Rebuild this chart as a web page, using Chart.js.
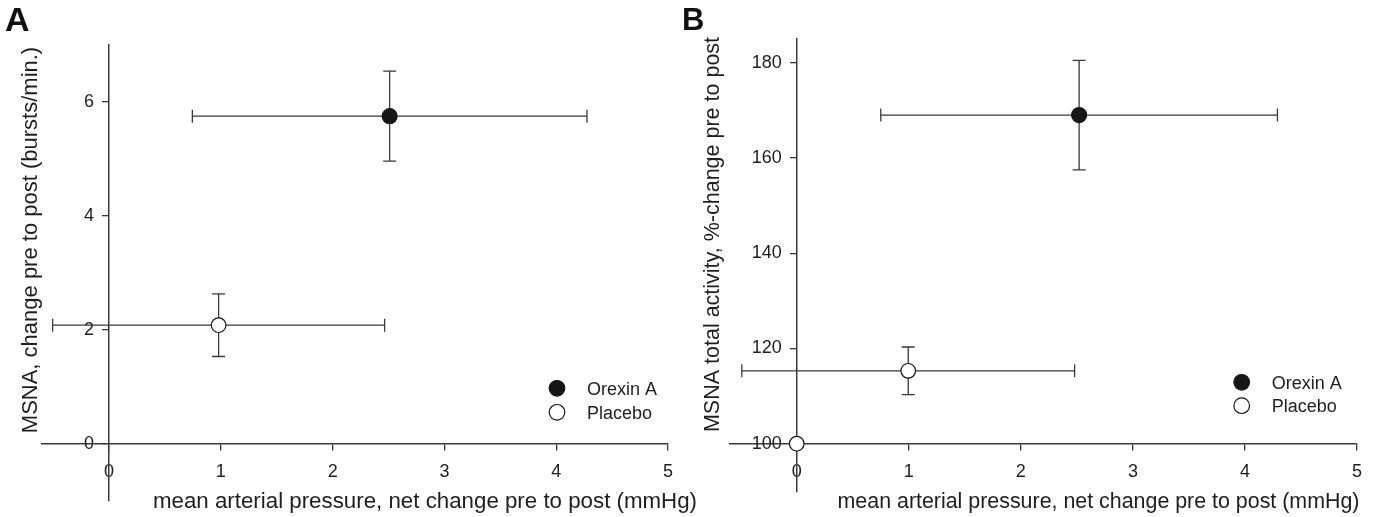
<!DOCTYPE html>
<html>
<head>
<meta charset="utf-8">
<script src="https://cdn.jsdelivr.net/npm/chart.js@4.4.1/dist/chart.umd.min.js"></script>
<style>
  html, body { margin: 0; padding: 0; background: #fff; }
  #wrap { position: relative; width: 1376px; height: 517px; overflow: hidden; }
  canvas { position: absolute; top: 0; }
  #chartA { left: 0; }
  #chartB { left: 688px; }
  .tag { position: absolute; font: bold 33px 'Liberation Sans', Arial, sans-serif; line-height: 1; color: #111; }
</style>
</head>
<body>
<div id="wrap">
  <canvas id="chartA" width="710" height="517"></canvas>
  <canvas id="chartB" width="688" height="517"></canvas>
  <div class="tag" style="left:5px; top:2px; font-size:34px;">A</div>
  <div class="tag" style="left:682px; top:4px; font-size:31px;">B</div>
</div>
<script>
// tick labels
const xTicks = [0, 1, 2, 3, 4, 5];
const yTicksA = [0, 2, 4, 6];
const yTicksB = [100, 120, 140, 160, 180];

const seriesLabels = ['Orexin A', 'Placebo'];

// panel A: MSNA burst frequency change
const orexinA_x = [2.51];
const orexinA_y = [5.75];
const orexinA_xErr = [1.765];
const orexinA_yErr = [0.79];
const placeboA_x = [0.98];
const placeboA_y = [2.08];
const placeboA_xErr = [1.485];
const placeboA_yErr = [0.55];

// panel B: MSNA total activity, %-change
const orexinB_x = [2.52];
const orexinB_y = [169];
const orexinB_xErr = [1.77];
const orexinB_yErr = [11.5];
const placeboB_x = [0.995, 0];
const placeboB_y = [115.3, 100];
const placeboB_xErr = [1.485, 0];
const placeboB_yErr = [5, 0];

const FONT = "'Liberation Sans', Arial, sans-serif";
const lineColor = '#3a3a3a';
const textColor = '#1e1e1e';

// linear scale whose y labels sit left of the crossing axis (sigmaplot style)
class CrossLinearScale extends Chart.LinearScale {
  drawLabels(area) {
    this.ctx.save();
    if (!this.isHorizontal()) this.ctx.translate(-15, 0);
    super.drawLabels(area);
    this.ctx.restore();
  }
}
CrossLinearScale.id = 'crossLinear';
CrossLinearScale.defaults = Chart.LinearScale.defaults;
Chart.register(CrossLinearScale);

function points(xs, ys, xe, ye) {
  return xs.map((v, i) => ({ x: v, y: ys[i], xErr: xe[i], yErr: ye[i] }));
}

const errorBars = {
  id: 'errorBars',
  beforeDatasetsDraw(chart) {
    const { ctx, scales: { x, y } } = chart;
    const cap = 6.5;
    ctx.save();
    ctx.strokeStyle = lineColor;
    ctx.lineWidth = 1.3;
    chart.data.datasets.forEach(ds => {
      ds.data.forEach(p => {
        const px = x.getPixelForValue(p.x);
        const py = y.getPixelForValue(p.y);
        ctx.beginPath();
        if (p.xErr) {
          const l = x.getPixelForValue(p.x - p.xErr);
          const r = x.getPixelForValue(p.x + p.xErr);
          ctx.moveTo(l, py); ctx.lineTo(r, py);
          ctx.moveTo(l, py - cap); ctx.lineTo(l, py + cap);
          ctx.moveTo(r, py - cap); ctx.lineTo(r, py + cap);
        }
        if (p.yErr) {
          const t = y.getPixelForValue(p.y + p.yErr);
          const b = y.getPixelForValue(p.y - p.yErr);
          ctx.moveTo(px, t); ctx.lineTo(px, b);
          ctx.moveTo(px - cap, t); ctx.lineTo(px + cap, t);
          ctx.moveTo(px - cap, b); ctx.lineTo(px + cap, b);
        }
        ctx.stroke();
      });
    });
    ctx.restore();
  }
};

// axis titles + legend drawn inside the plot
const panelText = {
  id: 'panelText',
  afterDraw(chart, args, o) {
    const { ctx } = chart;
    ctx.save();
    ctx.fillStyle = textColor;
    ctx.textAlign = 'center';
    ctx.textBaseline = 'alphabetic';
    ctx.font = o.titleSize + 'px ' + FONT;
    ctx.fillText(o.xTitle, o.xTitleX, o.xTitleY);
    ctx.save();
    ctx.translate(o.yTitleX, o.yTitleY);
    ctx.rotate(-Math.PI / 2);
    ctx.font = o.yTitleSize + 'px ' + FONT;
    ctx.fillText(o.yTitle, 0, 0);
    ctx.restore();

    ctx.font = '18px ' + FONT;
    ctx.textAlign = 'left';
    chart.data.datasets.forEach((ds, i) => {
      const cy = o.legendY + i * o.legendGap;
      ctx.beginPath();
      ctx.arc(o.legendX, cy, 7.8, 0, Math.PI * 2);
      ctx.fillStyle = ds.backgroundColor;
      ctx.fill();
      ctx.lineWidth = 1.2;
      ctx.strokeStyle = ds.borderColor;
      ctx.stroke();
      ctx.fillStyle = textColor;
      ctx.fillText(ds.label, o.legendX + 30, cy + 6.5);
    });
    ctx.restore();
  }
};

function noSpace(s, horizontal) {
  if (horizontal) s.height = 0; else s.width = 0;
  s.paddingLeft = s.paddingRight = s.paddingTop = s.paddingBottom = 0;
}

function makePanel(canvasId, cfg) {
  const ctx = document.getElementById(canvasId);
  return new Chart(ctx, {
    type: 'scatter',
    data: {
      datasets: [{
        label: seriesLabels[0],
        data: cfg.orexin,
        backgroundColor: '#161616',
        borderColor: '#161616',
        borderWidth: 1.2,
        pointRadius: 7.5,
        pointHoverRadius: 7.5
      }, {
        label: seriesLabels[1],
        data: cfg.placebo,
        backgroundColor: '#ffffff',
        borderColor: '#161616',
        borderWidth: 1.2,
        pointRadius: 7.3,
        pointHoverRadius: 7.3
      }]
    },
    options: {
      responsive: false,
      animation: false,
      devicePixelRatio: 1,
      events: [],
      layout: { padding: cfg.padding },
      plugins: {
        legend: { display: false },
        tooltip: { enabled: false },
        panelText: cfg.text
      },
      scales: {
        x: {
          type: 'crossLinear',
          min: -0.6,
          max: 5,
          position: { y: cfg.yCross },
          afterFit: s => noSpace(s, true),
          afterBuildTicks: s => { s.ticks = xTicks.map(v => ({ value: v })); },
          grid: { drawOnChartArea: false, drawTicks: true, tickLength: 6, color: lineColor, lineWidth: 1.3 },
          border: { display: true, color: lineColor, width: 1.5 },
          ticks: { padding: 11.5, color: textColor, font: { family: FONT, size: 18 }, maxRotation: 0, autoSkip: false }
        },
        y: {
          type: 'crossLinear',
          min: cfg.yMin,
          max: cfg.yMax,
          position: { x: 0 },
          afterFit: s => noSpace(s, false),
          afterBuildTicks: s => { s.ticks = cfg.yTicks.map(v => ({ value: v })); },
          grid: { drawOnChartArea: false, drawTicks: true, tickLength: 6, color: lineColor, lineWidth: 1.3 },
          border: { display: true, color: lineColor, width: 1.5 },
          ticks: { padding: 9, color: textColor, font: { family: FONT, size: 18 }, autoSkip: false }
        }
      }
    },
    plugins: [errorBars, panelText]
  });
}

makePanel('chartA', {
  orexin: points(orexinA_x, orexinA_y, orexinA_xErr, orexinA_yErr),
  placebo: points(placeboA_x, placeboA_y, placeboA_xErr, placeboA_yErr),
  yMin: -1, yMax: 7, yCross: 0, yTicks: yTicksA,
  padding: { left: 42, right: 42, top: 45, bottom: 16.4 },
  text: {
    xTitle: 'mean arterial pressure, net change pre to post (mmHg)',
    xTitleX: 425, xTitleY: 508, titleSize: 22.3,
    yTitle: 'MSNA, change pre to post (bursts/min.)',
    yTitleX: 37, yTitleY: 240, yTitleSize: 22,
    legendX: 557, legendY: 388.3, legendGap: 24
  }
});

makePanel('chartB', {
  orexin: points(orexinB_x, orexinB_y, orexinB_xErr, orexinB_yErr),
  placebo: points(placeboB_x, placeboB_y, placeboB_xErr, placeboB_yErr),
  yMin: 90, yMax: 185, yCross: 100, yTicks: yTicksB,
  padding: { left: 41.5, right: 19, top: 38.9, bottom: 25.7 },
  text: {
    xTitle: 'mean arterial pressure, net change pre to post (mmHg)',
    xTitleX: 410.5, xTitleY: 508, titleSize: 21.4,
    yTitle: 'MSNA total activity, %-change pre to post',
    yTitleX: 31, yTitleY: 234.5, yTitleSize: 21.5,
    legendX: 553.7, legendY: 382.3, legendGap: 23.4
  }
});
</script>
</body>
</html>
